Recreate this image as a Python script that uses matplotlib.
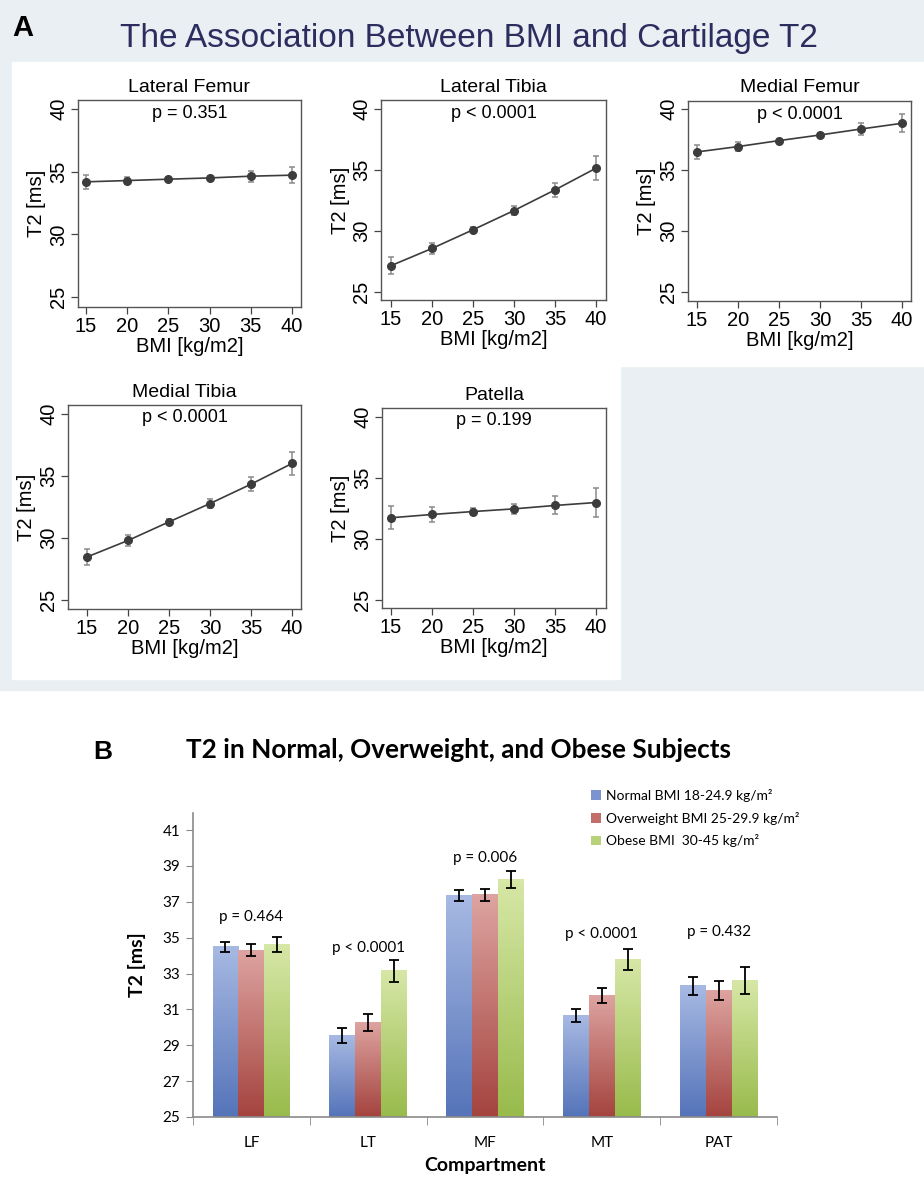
import numpy as np
import matplotlib
matplotlib.use("Agg")
import matplotlib.pyplot as plt
from matplotlib.patches import Rectangle, Patch
from matplotlib.colors import LinearSegmentedColormap
from matplotlib import font_manager

# ---- panel A data: T2 [ms] vs BMI ----
bmi = [15, 20, 25, 30, 35, 40]
panel_names = ["Lateral Femur", "Lateral Tibia", "Medial Femur", "Medial Tibia", "Patella"]
panel_p = ["p = 0.351", "p < 0.0001", "p < 0.0001", "p < 0.0001", "p = 0.199"]

lf_t2 = [34.19, 34.29, 34.40, 34.50, 34.64, 34.72]
lf_err = [0.56, 0.28, 0.15, 0.15, 0.44, 0.65]
lt_t2 = [27.16, 28.57, 30.10, 31.68, 33.37, 35.15]
lt_err = [0.68, 0.46, 0.20, 0.34, 0.60, 1.00]
mf_t2 = [36.48, 36.92, 37.41, 37.87, 38.36, 38.83]
mf_err = [0.61, 0.35, 0.15, 0.20, 0.52, 0.75]
mt_t2 = [28.47, 29.80, 31.30, 32.78, 34.34, 36.01]
mt_err = [0.63, 0.46, 0.20, 0.35, 0.58, 0.92]
pat_t2 = [31.74, 32.01, 32.25, 32.47, 32.75, 32.99]
pat_err = [0.93, 0.60, 0.31, 0.41, 0.74, 1.15]

# ---- panel B data: T2 by BMI group ----
compartments = ["LF", "LT", "MF", "MT", "PAT"]
group_labels = ["Normal BMI 18-24.9 kg/m²", "Overweight BMI 25-29.9 kg/m²",
                "Obese BMI  30-45 kg/m²"]
normal_t2 = [34.49, 29.54, 37.33, 30.67, 32.32]
normal_err = [0.28, 0.40, 0.31, 0.37, 0.50]
over_t2 = [34.30, 30.27, 37.39, 31.77, 32.06]
over_err = [0.33, 0.45, 0.34, 0.42, 0.54]
obese_t2 = [34.60, 33.15, 38.25, 33.78, 32.63]
obese_err = [0.41, 0.61, 0.47, 0.58, 0.75]
group_p = ["p = 0.464", "p < 0.0001", "p = 0.006", "p < 0.0001", "p = 0.432"]

W, H = 924, 1184
installed = {f.name for f in font_manager.fontManager.ttflist}
SANS = "Liberation Sans"
CAL = "Lato" if "Lato" in installed else "DejaVu Sans"

fig = plt.figure(figsize=(W / 100, H / 100), dpi=100)
fig.patch.set_facecolor("white")


def frect(x0, y0, x1, y1, color):
    fig.patches.append(Rectangle((x0 / W, 1 - y1 / H), (x1 - x0) / W, (y1 - y0) / H,
                                 transform=fig.transFigure, color=color, zorder=-10))


def fx(x):
    return x / W


def fy(y):
    return 1 - y / H


# backgrounds
frect(0, 0, W, 690, "#e9eff3")
frect(12, 62, W, 366, "white")
frect(12, 365, 620, 679, "white")

fig.text(fx(12), fy(28), "A", fontsize=21, fontweight="bold", family=SANS,
         va="center", ha="left")
fig.text(fx(469), fy(38), "The Association Between BMI and Cartilage T2",
         fontsize=24, family=SANS, color="#2b2d5e", ha="center", va="center")

# (left, right, top, bottom, x15, x40, y40, y25) in pixels
boxes = [
    (78, 301, 100, 307, 86, 292, 109, 297),
    (381, 606, 100, 300, 391, 596, 109, 292),
    (688, 911, 101, 301, 697, 902, 109, 292),
    (68, 301, 405, 609, 87, 292, 414, 600),
    (382, 606, 408, 608, 391, 596, 417, 600),
]
series = [(lf_t2, lf_err), (lt_t2, lt_err), (mf_t2, mf_err), (mt_t2, mt_err), (pat_t2, pat_err)]

for (l, r, t, b, x15, x40, y40, y25), (vals, errs), name, ptxt in zip(boxes, series, panel_names, panel_p):
    ax = fig.add_axes([fx(l), fy(b), (r - l) / W, (b - t) / H])
    xs = 25 / (x40 - x15)
    ys = 15 / (y25 - y40)
    ax.set_xlim(15 + (l - x15) * xs, 15 + (r - x15) * xs)
    ax.set_ylim(25 - (b - y25) * ys, 25 + (y25 - t) * ys)
    ax.errorbar(bmi, vals, yerr=errs, fmt="none", ecolor="#8a8a8a", elinewidth=1.1,
                capsize=2, capthick=1.1, zorder=2)
    ax.plot(bmi, vals, "-o", color="#3c3c3c", lw=1.2, ms=5.5, zorder=3)
    ax.set_xticks(bmi)
    ax.set_yticks([25, 30, 35, 40])
    ax.tick_params(length=5, width=0.9, color="#444", labelsize=14.5, pad=2)
    for lab in ax.get_yticklabels():
        lab.set_rotation(90)
        lab.set_va("center")
    for lab in ax.get_xticklabels() + ax.get_yticklabels():
        lab.set_family(SANS)
    for s in ["left", "bottom", "right", "top"]:
        ax.spines[s].set_color("#555")
        ax.spines[s].set_linewidth(1.0)
    ax.set_xlabel("BMI [kg/m2]", fontsize=14.5, family=SANS, labelpad=1)
    ax.set_ylabel("T2 [ms]", fontsize=14.5, family=SANS, labelpad=2)
    ax.text(0.5, 1.0 - 13 / (b - t), ptxt, transform=ax.transAxes, ha="center",
            va="center", fontsize=13, family=SANS)
    fig.text(fx((l + r) / 2), fy(t - 13), name, fontsize=14, family=SANS,
             ha="center", va="center")

# ---- panel B ----
fig.text(fx(93), fy(752), "B", fontsize=19, fontweight="bold", family=SANS,
         ha="left", va="center")
fig.text(fx(459), fy(750), "T2 in Normal, Overweight, and Obese Subjects",
         fontsize=18.8, fontweight="bold", family=CAL, ha="center", va="center")

bx = fig.add_axes([fx(193), fy(1117), (777 - 193) / W, (1117 - 813) / H])

ramps = [("#a7b9e3", "#5574b9"), ("#dda3a0", "#a5443f"), ("#d6e7a6", "#99bb4c")]
solid = ["#7b93cf", "#c26f6b", "#b8d27a"]
width = 0.222
grad = np.linspace(0, 1, 64).reshape(-1, 1)
groups = [(normal_t2, normal_err), (over_t2, over_err), (obese_t2, obese_err)]
x = np.arange(len(compartments))
for k, ((vals, errs), (top_c, bot_c)) in enumerate(zip(groups, ramps)):
    cmap = LinearSegmentedColormap.from_list("g%d" % k, [top_c, bot_c])
    pos = x + (k - 1) * width
    bars = bx.bar(pos, np.array(vals) - 25, width=width, bottom=25, color="none",
                  edgecolor="none", zorder=2)
    for rect in bars:
        x0 = rect.get_x()
        h = rect.get_y() + rect.get_height()
        bx.imshow(grad, extent=[x0, x0 + width, 25, h], origin="upper", aspect="auto",
                  cmap=cmap, zorder=2)
    bx.errorbar(pos, vals, yerr=errs, fmt="none", ecolor="black", elinewidth=1.3,
                capsize=3.5, capthick=1.3, zorder=4)

bx.set_xlim(-0.5, 4.5)
bx.set_ylim(25, 25 + (1117 - 813) / ((1117 - 830) / 16))

p_y = [36.15, 34.4, 39.45, 35.2, 35.3]
for i, (txt, yy) in enumerate(zip(group_p, p_y)):
    bx.text(i, yy, txt, ha="center", va="center", fontsize=11, family=CAL)

bx.set_yticks(np.arange(25, 42, 2))
bx.set_xticks(x)
bx.set_xticklabels(compartments)
bx.set_xticks(np.arange(-0.5, 5, 1), minor=True)
bx.tick_params(axis="y", length=5, color="#888", labelsize=11, pad=4)
bx.tick_params(axis="x", which="major", length=0, labelsize=11, pad=14)
bx.tick_params(axis="x", which="minor", length=6, color="#888", direction="out")
for lab in bx.get_xticklabels() + bx.get_yticklabels():
    lab.set_family(CAL)
for s in ["top", "right"]:
    bx.spines[s].set_visible(False)
for s in ["left", "bottom"]:
    bx.spines[s].set_color("#8a8a8a")
    bx.spines[s].set_linewidth(1.2)
bx.set_ylabel("T2 [ms]", fontsize=14, fontweight="bold", family=CAL, labelpad=12)
bx.set_xlabel("Compartment", fontsize=14, fontweight="bold", family=CAL, labelpad=5)

handles = [Patch(facecolor=c, edgecolor="none") for c in solid]
leg = fig.legend(handles, group_labels, loc="upper left",
                 bbox_to_anchor=(fx(591), fy(789)), frameon=False,
                 prop={"family": CAL, "size": 10}, handlelength=0.7,
                 handleheight=0.7, handletextpad=0.4, labelspacing=0.7,
                 borderaxespad=0, borderpad=0)

fig.savefig("out.png", dpi=100)
